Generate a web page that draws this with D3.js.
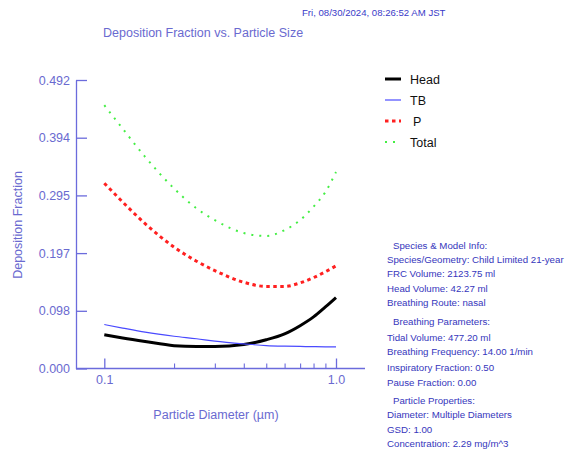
<!DOCTYPE html>
<html><head><meta charset="utf-8">
<script src="https://cdn.jsdelivr.net/npm/d3@7"></script>
<style>body{margin:0;background:#fff}svg{display:block}text{font-family:"Liberation Sans",Arial,sans-serif}</style>
</head><body><svg id="c" width="566" height="452"></svg>
<script>
const diameters = [0.1,0.12,0.15,0.2,0.25,0.3,0.4,0.5,0.6,0.7,0.8,0.9,1.0];
const head  = [0.0575,0.052,0.046,0.039,0.0376,0.0376,0.041,0.049,0.059,0.073,0.088,0.105,0.121];
const tb    = [0.075,0.069,0.062,0.055,0.0507,0.0467,0.042,0.039,0.038,0.0376,0.0372,0.037,0.037];
const pul   = [0.316,0.284,0.247,0.207,0.183,0.167,0.147,0.140,0.140,0.146,0.155,0.165,0.175];
const total = [0.449,0.409,0.361,0.307,0.273,0.253,0.231,0.226,0.236,0.253,0.276,0.301,0.335];
const yTicks = [0, 0.0984, 0.1968, 0.2952, 0.3936, 0.492];
const xMajor = [0.1, 1.0];
const xMinor = [0.2,0.3,0.4,0.5,0.6,0.7,0.8,0.9];
const seriesNames = ["Head","TB","P","Total"];
const infoLines = [
 ["Species & Model Info:",1],["Species/Geometry: Child Limited 21-year",0],["FRC Volume: 2123.75 ml",0],
 ["Head Volume: 42.27 ml",0],["Breathing Route: nasal",0],
 ["Breathing Parameters:",1],["Tidal Volume: 477.20 ml",0],["Breathing Frequency: 14.00 1/min",0],
 ["Inspiratory Fraction: 0.50",0],["Pause Fraction: 0.00",0],
 ["Particle Properties:",1],["Diameter: Multiple Diameters",0],["GSD: 1.00",0],["Concentration: 2.29 mg/m^3",0]
];

const svg = d3.select("#c");
const axisCol = "#6b6bdc", textCol = "#6a6ad0";
const x = d3.scaleLog().domain([0.1,1]).range([104.3,336]);
const y = d3.scaleLinear().domain([0,0.492]).range([368.5,80]);

// Y axis
const ya = svg.append("g").attr("transform","translate(76,0)")
  .call(d3.axisLeft(y).tickValues(yTicks).tickSizeInner(-11).tickSizeOuter(0).tickPadding(6).tickFormat(d3.format(".3f")));
ya.selectAll("path,line").attr("stroke",axisCol).attr("stroke-width",1.3);
ya.selectAll("text").attr("fill",textCol).attr("font-size",12.5).attr("font-family","Liberation Sans, Arial");

// X axis
const xa = svg.append("g").attr("transform","translate(0,368.5)")
  .call(d3.axisBottom(x).tickValues(xMajor).tickSizeInner(-10).tickSizeOuter(0).tickPadding(7).tickFormat(d3.format(".1f")));
xa.select(".domain").remove();
xa.selectAll("line").attr("stroke",axisCol).attr("stroke-width",1.3);
xa.selectAll("text").attr("fill",textCol).attr("font-size",12.5).attr("font-family","Liberation Sans, Arial");
const xm = svg.append("g").attr("transform","translate(0,368.5)")
  .call(d3.axisBottom(x).tickValues(xMinor).tickSizeInner(-5).tickSizeOuter(0).tickFormat(""));
xm.select(".domain").remove();
xm.selectAll("line").attr("stroke",axisCol).attr("stroke-width",1.1);
svg.append("line").attr("x1",76).attr("x2",365).attr("y1",368.5).attr("y2",368.5).attr("stroke",axisCol).attr("stroke-width",1.3);

// lines
const mk = vals => d3.line().x((d,i)=>x(diameters[i])).y(d=>y(d)).curve(d3.curveMonotoneX)(vals);
const styles = [
  {v:head, c:"#000", w:3, dash:null},
  {v:tb, c:"#4a4aff", w:1.2, dash:null},
  {v:pul, c:"#ff2020", w:3, dash:"3.5,3.5"},
  {v:total, c:"#44ee44", w:2, dash:"2,6"}
];
styles.forEach(s=>{
  svg.append("path").attr("d",mk(s.v)).attr("fill","none").attr("stroke",s.c)
    .attr("stroke-width",s.w).attr("stroke-dasharray",s.dash).attr("stroke-linecap","butt");
});

// legend
seriesNames.forEach((n,i)=>{
  const s = styles[i], ly = 79 + i*21;
  svg.append("line").attr("x1",385).attr("x2",401).attr("y1",ly).attr("y2",ly)
    .attr("stroke",s.c).attr("stroke-width",s.w).attr("stroke-dasharray",s.dash);
  svg.append("text").attr("x", n==="P"?413:410).attr("y",ly+4.5).attr("font-size",12.5).attr("fill","#111").text(n);
});

// titles
svg.append("text").attr("x",302).attr("y",16).attr("font-size",9.6).attr("fill","#3a3ac8").text("Fri, 08/30/2024, 08:26:52  AM JST");
svg.append("text").attr("x",103).attr("y",37).attr("font-size",12.5).attr("fill",textCol).text("Deposition Fraction vs. Particle Size");
svg.append("text").attr("x",216).attr("y",419).attr("text-anchor","middle").attr("font-size",12.5).attr("fill",textCol).text("Particle Diameter (µm)");
svg.append("text").attr("transform","translate(22,225) rotate(-90)").attr("text-anchor","middle").attr("font-size",12.5).attr("fill",textCol).text("Deposition Fraction");

// info
const infoY = [245,259,273,288,302,321,337,351,367,382,400,414,429,443];
infoLines.forEach((l,i)=>{
  svg.append("text").attr("x", l[1]?393:387).attr("y",infoY[i]+3.5).attr("font-size",9.7).attr("fill","#3636bc").text(l[0]);
});
</script></body></html>
